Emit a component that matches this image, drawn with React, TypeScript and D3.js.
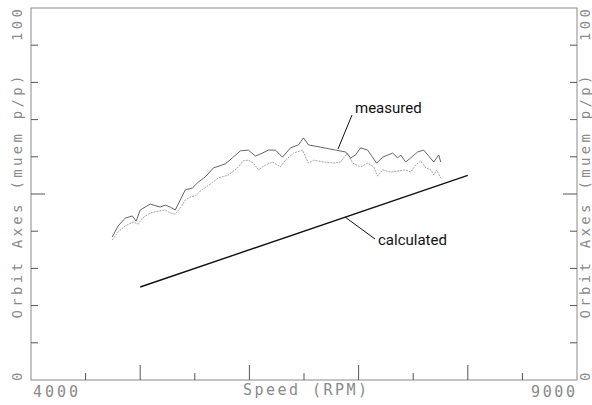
import * as d3 from "d3";
import React from "react";

// speed (RPM) and orbit axes (muem p/p)
const upperRpm = [4743, 4798, 4862, 4927, 4963, 5000, 5092, 5183, 5229, 5275, 5321, 5367, 5413, 5477, 5532, 5596, 5670, 5780, 5844, 5917, 5991, 6055, 6119, 6174, 6239, 6303, 6376, 6450, 6495, 6541, 6651, 6789, 6881, 6927, 6972, 7018, 7083, 7128, 7165, 7220, 7312, 7358, 7385, 7431, 7477, 7541, 7596, 7642, 7688, 7734, 7752];
const upperVal = [38.4, 41.4, 43.5, 44.1, 42.7, 45.7, 47.3, 46.5, 47.0, 46.5, 45.7, 48.4, 51.1, 51.6, 53.2, 54.6, 57.0, 58.1, 59.7, 61.6, 61.8, 60.2, 61.0, 61.8, 61.8, 59.9, 62.4, 63.2, 65.1, 63.2, 62.6, 61.8, 61.3, 59.7, 60.5, 62.4, 61.8, 59.9, 58.3, 59.9, 61.0, 59.7, 60.5, 58.6, 59.7, 61.3, 61.8, 60.2, 58.6, 60.5, 58.6];

const lowerRpm = [4743, 4798, 4862, 4936, 4982, 5018, 5092, 5165, 5229, 5275, 5321, 5367, 5413, 5459, 5505, 5550, 5642, 5716, 5807, 5890, 5945, 5991, 6037, 6083, 6147, 6211, 6284, 6330, 6404, 6486, 6541, 6587, 6679, 6771, 6835, 6899, 6945, 7018, 7083, 7138, 7174, 7220, 7294, 7367, 7431, 7477, 7523, 7569, 7615, 7661, 7688, 7715, 7752];
const lowerVal = [37.6, 39.8, 41.4, 42.5, 41.9, 43.5, 44.9, 45.4, 45.7, 44.9, 44.6, 46.2, 48.4, 49.2, 49.5, 50.8, 52.7, 54.3, 55.1, 57.0, 58.9, 59.1, 58.3, 56.5, 57.8, 58.6, 57.3, 59.1, 61.0, 61.8, 58.3, 59.1, 58.6, 58.3, 58.6, 61.0, 58.3, 57.3, 58.3, 57.3, 54.8, 56.5, 55.9, 56.2, 56.5, 55.9, 57.8, 58.9, 57.0, 56.5, 55.1, 56.5, 54.3];

const calcRpm = [5000, 8000];
const calcVal = [25, 55];

const xTicks = [4500, 5000, 5500, 6000, 6500, 7000, 7500, 8000, 8500];
const xMajor = [5000, 6000, 7000, 8000];
const yTicks = [10, 20, 30, 40, 50, 60, 70, 80, 90];
const yMajor = [50];

const xTickLabels = ["4000", "9000"];
const yTickLabels = ["0", "100"];
const xTitle = "Speed (RPM)";
const yTitle = "Orbit Axes (muem p/p)";

export default function App() {
    const W = 592, H = 405;
    const x = d3.scaleLinear().domain([4000, 9000]).range([31, 577]);
    const y = d3.scaleLinear().domain([0, 100]).range([380, 8]);

    const line = d3.line<[number, number]>()
        .x(d => x(d[0]))
        .y(d => y(d[1]));

    const upper = upperRpm.map((r, i) => [r, upperVal[i]] as [number, number]);
    const lower = lowerRpm.map((r, i) => [r, lowerVal[i]] as [number, number]);
    const calc = calcRpm.map((r, i) => [r, calcVal[i]] as [number, number]);

    const grey = "#8a8a8a";
    const mono = "'DejaVu Sans Mono', monospace";

    const yLabels = (bx: number) => (
        <g fill={grey} fontFamily={mono} fontSize={14}>
            <text transform={`translate(${bx},${y(0) + 1}) rotate(-90)`} textAnchor="start">{yTickLabels[0]}</text>
            <text transform={`translate(${bx},${y(100) + 1}) rotate(-90)`} textAnchor="end" textLength={32}>{yTickLabels[1]}</text>
            <text transform={`translate(${bx},197) rotate(-90)`} textAnchor="middle" textLength={243} lengthAdjust="spacing">{yTitle}</text>
        </g>
    );

    return (
        <svg width={W} height={H} style={{ position: "absolute", left: 0, top: 0, background: "#fff" }}>
            {/* frame */}
            <rect x={x(4000)} y={y(100)} width={x(9000) - x(4000)} height={y(0) - y(100)}
                fill="none" stroke={grey} strokeWidth={1} />

            {/* x ticks */}
            {xTicks.map(t => {
                const len = xMajor.includes(t) ? 15 : 7;
                return <line key={"x" + t} x1={x(t)} x2={x(t)} y1={y(0)} y2={y(0) - len} stroke="#555" strokeWidth={1} />;
            })}
            {/* y ticks, both sides */}
            {yTicks.map(t => {
                const len = yMajor.includes(t) ? 14 : 7;
                return (
                    <g key={"y" + t}>
                        <line x1={x(4000)} x2={x(4000) + len} y1={y(t)} y2={y(t)} stroke="#555" strokeWidth={1} />
                        <line x1={x(9000)} x2={x(9000) - len} y1={y(t)} y2={y(t)} stroke="#555" strokeWidth={1} />
                    </g>
                );
            })}

            {/* x labels */}
            <g fill={grey} fontFamily={mono} fontSize={15}>
                <text x={33} y={397} textLength={45}>{xTickLabels[0]}</text>
                <text x={575} y={397} textAnchor="end" textLength={44}>{xTickLabels[1]}</text>
                <text x={305} y={395} textAnchor="middle" textLength={124} lengthAdjust="spacing">{xTitle}</text>
            </g>

            {yLabels(22)}
            {yLabels(590)}

            {/* measured curves */}
            <path d={line(lower) || ""} fill="none" stroke="#9a9a9a" strokeWidth={0.9} strokeDasharray="2 1" />
            <path d={line(upper) || ""} fill="none" stroke="#555" strokeWidth={0.9} />

            {/* calculated line */}
            <path d={line(calc) || ""} fill="none" stroke="#111" strokeWidth={1.4} />

            {/* annotations */}
            <g fontFamily="Roboto, sans-serif" fontSize={15} fill="#111">
                <text x={355} y={113}>measured</text>
                <line x1={352} y1={115} x2={338} y2={149} stroke="#111" strokeWidth={1} />
                <text x={378} y={245}>calculated</text>
                <line x1={345} y1={217} x2={375} y2={239} stroke="#111" strokeWidth={1} />
            </g>
        </svg>
    );
}
